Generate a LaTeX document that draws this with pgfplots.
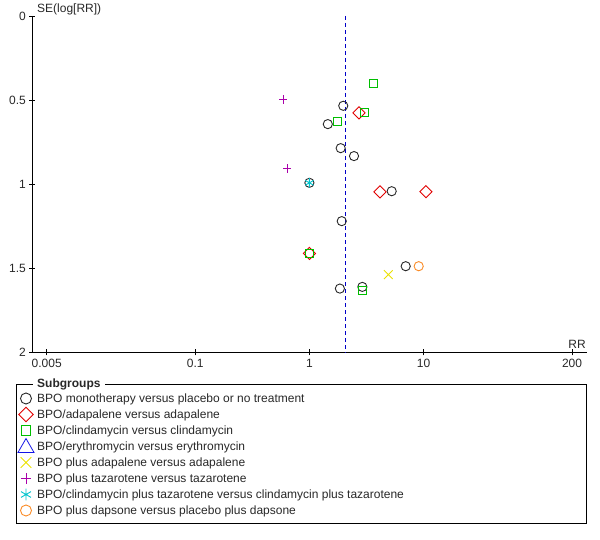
\documentclass[border=0pt]{standalone}
\usepackage{fontspec}
\setmainfont{Liberation Sans}
\usepackage{pgfplots}
\pgfplotsset{compat=1.18}
\definecolor{cRed}{RGB}{225,0,0}
\definecolor{cGreen}{RGB}{0,190,0}
\definecolor{cBlue}{RGB}{20,20,230}
\definecolor{cYellow}{RGB}{235,225,0}
\definecolor{cMag}{RGB}{170,0,170}
\definecolor{cCyan}{RGB}{0,195,205}
\definecolor{cOrange}{RGB}{250,140,40}
\definecolor{cDark}{RGB}{40,40,40}
\definecolor{cDash}{RGB}{0,0,200}
\begin{document}
\begin{tikzpicture}[x=1pt,y=1pt,font=\fontsize{12}{14}\selectfont]
\path[use as bounding box] (0,0) rectangle (600,540);
\begin{axis}[
  at={(32.3pt,187.7pt)}, anchor=south west,
  scale only axis, width=554.7pt, height=336.3pt,
  xmode=log, xmin=0.003737, xmax=270.4,
  ymin=0, ymax=2, y dir=reverse,
  axis x line=bottom, axis y line=left,
  axis line style={-, line width=0.8pt, black},
  xtick={0.005,0.1,1,10,200}, xticklabels={0.005,0.1,1,10,200},
  minor xtick={},
  ytick={0,0.5,1,1.5,2}, yticklabels={0,0.5,1,1.5,2},
  tick align=center, major tick length=6pt,
  tick style={black, line width=0.8pt},
  tick label style={font=\fontsize{12}{14}\selectfont, text=cDark},
  /pgf/number format/assume math mode=true,
  clip=false,
  legend style={at={(-0.02614,-0.1130)}, anchor=north west, draw=none, fill=none,
    inner sep=0pt, row sep=0pt, /tikz/column sep=2.1pt,
    nodes={inner xsep=1pt, inner ysep=1pt, text height=11pt, text depth=3pt, text=cDark},
    font=\fontsize{12}{14}\selectfont},
  legend cell align=left,
  legend image code/.code={\draw[#1, /tikz/every mark/.append style={scale=1.2}] plot coordinates {(0pt,0pt)};},
]
\addplot[only marks, mark=o, mark size=4.6pt, mark options={draw=cDark, line width=0.9pt}] coordinates {
  (1.98,0.534) (1.45,0.643) (1.88,0.786) (2.46,0.833) (1.0,0.992)
  (5.26,1.042) (1.92,1.220) (6.98,1.488) (1.85,1.621) (2.91,1.611)};
\addlegendentry{BPO monotherapy versus placebo or no treatment}
\addplot[only marks, mark=square, mark size=4.3pt, mark options={draw=cRed, rotate=45, line width=0.9pt}] coordinates {
  (2.72,0.576) (4.15,1.046) (10.5,1.045) (1.0,1.412)};
\addlegendentry{BPO/adapalene versus adapalene}
\addplot[only marks, mark=square, mark size=4pt, mark options={draw=cGreen, line width=0.9pt}] coordinates {
  (3.63,0.40) (3.03,0.573) (1.75,0.627) (1.0,1.412) (2.91,1.635)};
\addlegendentry{BPO/clindamycin versus clindamycin}
\addlegendimage{only marks, mark=triangle, mark size=7.7pt, mark options={draw=cBlue, line width=0.8pt, yshift=-1.3pt}}
\addlegendentry{BPO/erythromycin versus erythromycin}
\addplot[only marks, mark=x, mark size=6.2pt, mark options={draw=cYellow, line width=0.9pt}] coordinates {
  (4.91,1.538)};
\addlegendentry{BPO plus adapalene versus adapalene}
\addplot[only marks, mark=+, mark size=4.2pt, mark options={draw=cMag, line width=0.9pt}] coordinates {
  (0.59,0.496) (0.64,0.907)};
\addlegendentry{BPO plus tazarotene versus tazarotene}
\addplot[only marks, mark=asterisk, mark size=4.8pt, mark options={draw=cCyan, line width=0.9pt}] coordinates {
  (1.0,0.992)};
\addlegendentry{BPO/clindamycin plus tazarotene versus clindamycin plus tazarotene}
\addplot[only marks, mark=o, mark size=4.6pt, mark options={draw=cOrange, line width=0.9pt}] coordinates {
  (9.07,1.488)};
\addlegendentry{BPO plus dapsone versus placebo plus dapsone}
\addplot[forget plot, cDash, line width=0.8pt, dash pattern=on 4pt off 3pt] coordinates {(2.07,0) (2.07,2)};
\end{axis}
\node[anchor=west, inner sep=0pt, text=cDark] at (37,531) {SE(log[RR])};
\node[anchor=east, inner sep=0pt, text=cDark] at (586,196) {RR};
\draw[line width=0.8pt, black] (16.5,155.5) rectangle (586.5,17);
\node[anchor=west, fill=white, inner xsep=4pt, inner ysep=1pt, text=cDark, font=\fontsize{12}{14}\selectfont\bfseries] at (33,155.5) {Subgroups};
\end{tikzpicture}
\end{document}
